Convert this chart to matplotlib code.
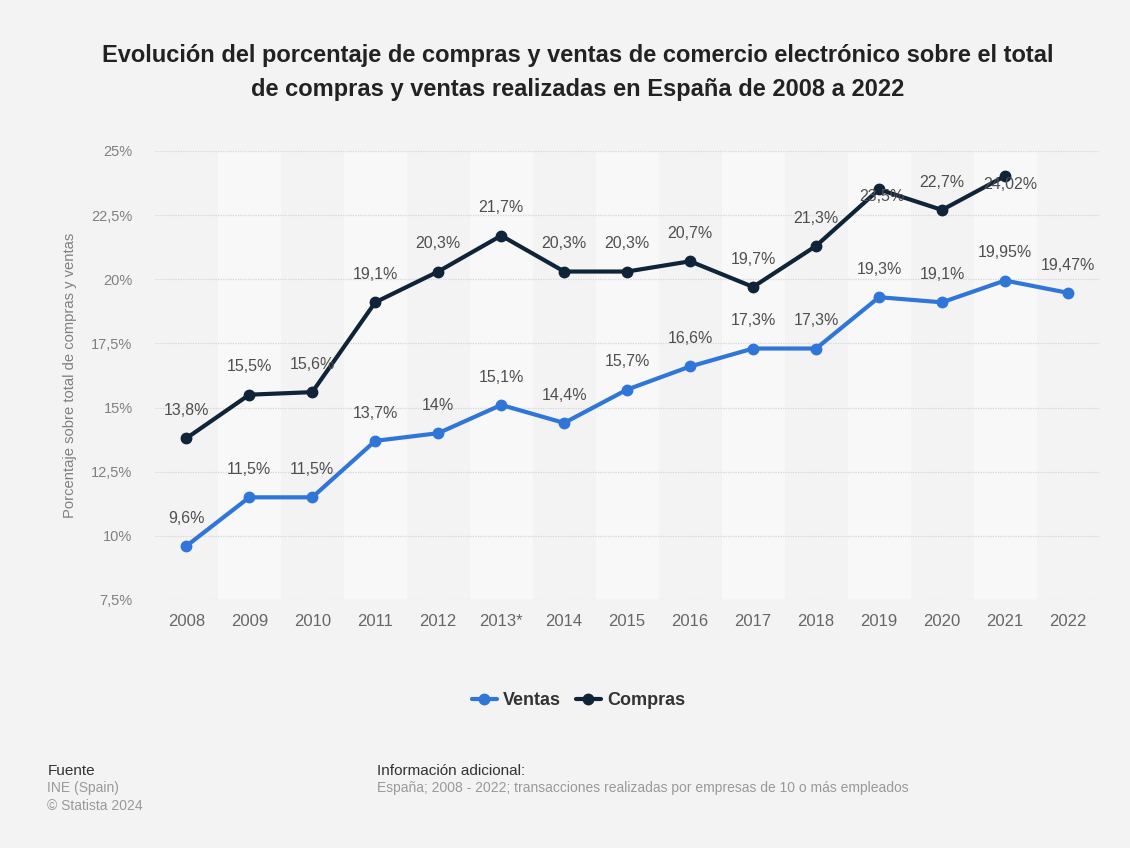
import matplotlib.pyplot as plt
import numpy as np

# Datos
anios = ['2008', '2009', '2010', '2011', '2012', '2013*', '2014', '2015',
         '2016', '2017', '2018', '2019', '2020', '2021', '2022']
ventas = [9.6, 11.5, 11.5, 13.7, 14.0, 15.1, 14.4, 15.7, 16.6, 17.3, 17.3,
          19.3, 19.1, 19.95, 19.47]
compras = [13.8, 15.5, 15.6, 19.1, 20.3, 21.7, 20.3, 20.3, 20.7, 19.7, 21.3,
           23.5, 22.7, 24.02]
yticks = [7.5, 10, 12.5, 15, 17.5, 20, 22.5, 25]

def fmt(v):
    s = ('%.2f' % v).rstrip('0').rstrip('.')
    return s.replace('.', ',') + '%'

plt.rcParams['font.family'] = ['Liberation Sans', 'DejaVu Sans']

bg = '#f3f3f3'
azul = '#2f76d8'
marino = '#0f2339'

fig = plt.figure(figsize=(11.3, 8.48), dpi=100, facecolor=bg)
ax = fig.add_axes([0.137, 0.2925, 0.836, 0.5295])
ax.set_facecolor(bg)

# bandas alternas por categoria
for i in range(len(anios)):
    if i % 2 == 1:
        ax.axvspan(i - 0.5, i + 0.5, color='#f8f8f8', zorder=0, lw=0)

for y in yticks:
    ax.axhline(y, color='#d6d6d6', lw=0.9, ls=(0, (1, 1)), zorder=1)

x_v = np.arange(len(ventas))
x_c = np.arange(len(compras))
ax.plot(x_v, ventas, color=azul, lw=3, marker='o', ms=7.5, zorder=3,
        solid_capstyle='round', label='Ventas')
ax.plot(x_c, compras, color=marino, lw=3, marker='o', ms=7.5, zorder=3,
        solid_capstyle='round', label='Compras')

# etiquetas de valor
for i, v in enumerate(ventas):
    ax.annotate(fmt(v), (i, v), xytext=(0, 20), textcoords='offset points',
                ha='center', va='center', fontsize=11.5, color='#4f4f4f', zorder=4)
off_c = {11: (2, -5), 13: (4, -6)}
for i, v in enumerate(compras):
    dx, dy = off_c.get(i, (0, 20))
    ax.annotate(fmt(v), (i, v), xytext=(dx, dy), textcoords='offset points',
                ha='center', va='center', fontsize=11.5, color='#4f4f4f', zorder=4)

ax.set_xlim(-0.5, len(anios) - 0.5)
ax.set_ylim(7.5, 25)
ax.set_xticks(range(len(anios)))
ax.set_xticklabels(anios)
ax.set_yticks(yticks)
ax.set_yticklabels([fmt(t) for t in yticks])
ax.tick_params(axis='x', length=0, labelsize=12, colors='#666666', pad=10)
ax.tick_params(axis='y', length=0, labelsize=10.5, colors='#808080', pad=16)
for s in ax.spines.values():
    s.set_visible(False)
ax.set_ylabel('Porcentaje sobre total de compras y ventas', fontsize=10.6,
              color='#808080', labelpad=10)

fig.text(0.511, 0.9145, 'Evolución del porcentaje de compras y ventas de comercio electrónico sobre el total\n'
         'de compras y ventas realizadas en España de 2008 a 2022',
         ha='center', va='center', fontsize=17, fontweight='bold', color='#222222',
         linespacing=1.6)

leg = fig.legend(loc='center', bbox_to_anchor=(0.512, 0.174), ncol=2, frameon=False,
                 fontsize=13, handlelength=1.4, columnspacing=0.8, handletextpad=0.35)
for t in leg.get_texts():
    t.set_fontweight('bold')
    t.set_color('#333333')

fig.text(0.042, 0.091, 'Fuente', fontsize=11, color='#333333', va='center')
fig.text(0.042, 0.071, 'INE (Spain)', fontsize=10, color='#999999', va='center')
fig.text(0.042, 0.050, '© Statista 2024', fontsize=10, color='#999999', va='center')
fig.text(0.334, 0.091, 'Información adicional:', fontsize=11, color='#333333', va='center')
fig.text(0.334, 0.071, 'España; 2008 - 2022; transacciones realizadas por empresas de 10 o más empleados',
         fontsize=10, color='#999999', va='center')

fig.savefig('out.png', dpi=100, facecolor=bg)
